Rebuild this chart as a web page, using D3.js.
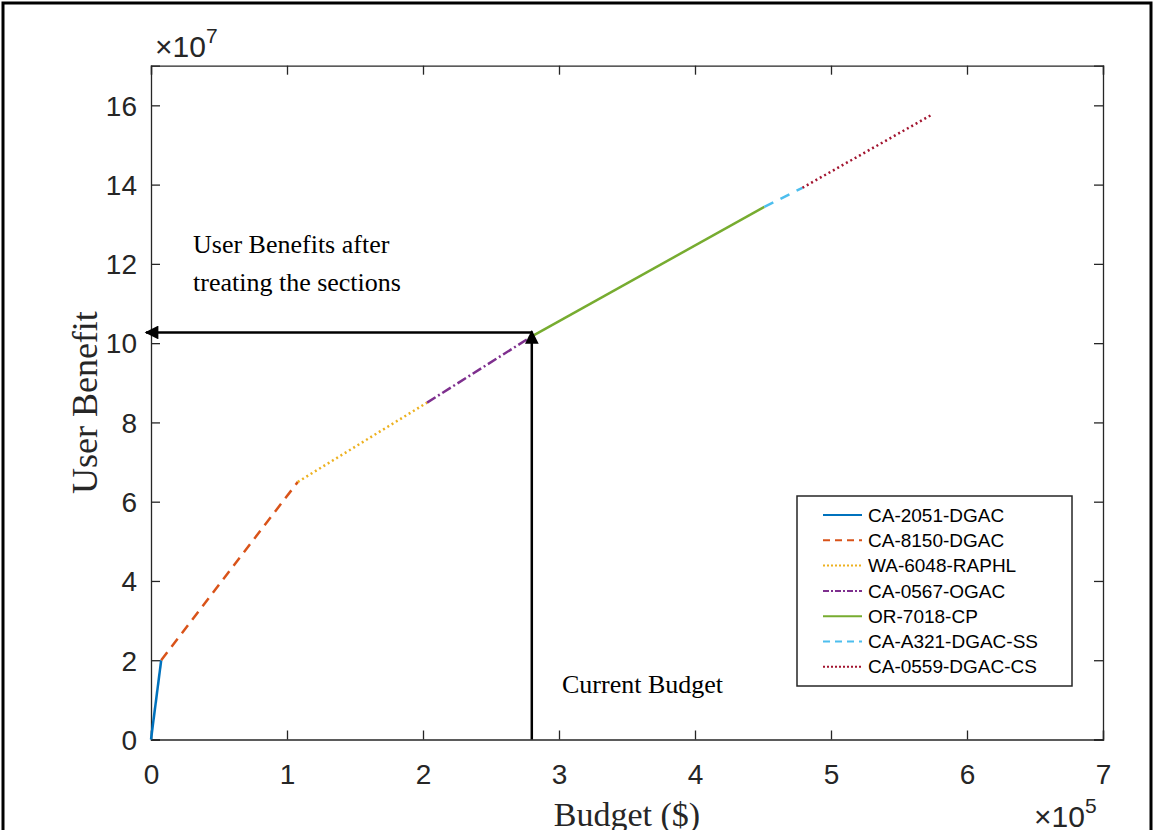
<!DOCTYPE html>
<html><head><meta charset="utf-8">
<script src="https://cdn.jsdelivr.net/npm/d3@7"></script>
<style>body{margin:0;background:#fff}</style></head>
<body><svg id="c" width="1154" height="830"></svg>
<script>
// Data: budget (x 1e5 $), user benefit (x 1e7)
const seriesNames = ["CA-2051-DGAC","CA-8150-DGAC","WA-6048-RAPHL","CA-0567-OGAC","OR-7018-CP","CA-A321-DGAC-SS","CA-0559-DGAC-CS"];
const seriesBudget = [[0,0.075],[0.075,1.08],[1.08,2.03],[2.03,2.79],[2.79,4.51],[4.51,4.79],[4.79,5.75]];
const seriesBenefit = [[0,2.0],[2.0,6.5],[6.5,8.5],[8.5,10.15],[10.15,13.44],[13.44,13.92],[13.92,15.78]];
const xTicks = [0,1,2,3,4,5,6,7];
const yTicks = [0,2,4,6,8,10,12,14,16];
const currentBudget = 2.8;
const benefitAtBudget = 10.27;

const colors = ["#0072BD","#D95319","#EDB120","#7E2F8E","#77AC30","#4DBEEE","#A2142F"];
const dashes = [null,"10,7","2,3","10,3,2,3",null,"10,8","2,3"];
const legendDashes = [null,"7,5","2,2","6,2,2,2",null,"7,5","2,2"];

const svg = d3.select("#c");
svg.append("rect").attr("width",1154).attr("height",830).attr("fill","#fff");
// outer border
svg.append("path").attr("d","M3,840V3H1151V840").attr("fill","none").attr("stroke","#000").attr("stroke-width",3);

const L=151,R=1103,T=65.7,B=739.5;
const x = d3.scaleLinear().domain([0,7]).range([L,R]);
const y = d3.scaleLinear().domain([0,17]).range([B,T]);
const axc="#262626";
const tf="'Liberation Sans',Arial,Helvetica,sans-serif";
const sf="'Liberation Serif','Times New Roman',serif";

// axes with inward ticks
const tl=9;
const gx=svg.append("g").attr("transform",`translate(0,${B})`).call(d3.axisBottom(x).tickValues(xTicks).tickSize(-tl).tickPadding(25).tickFormat(d3.format("d")));
const gxt=svg.append("g").attr("transform",`translate(0,${T})`).call(d3.axisTop(x).tickValues(xTicks).tickSize(-tl).tickFormat(""));
const gy=svg.append("g").attr("transform",`translate(${L},0)`).call(d3.axisLeft(y).tickValues(yTicks).tickSize(-tl).tickPadding(14).tickFormat(d3.format("d")));
const gyr=svg.append("g").attr("transform",`translate(${R},0)`).call(d3.axisRight(y).tickValues(yTicks).tickSize(-tl).tickFormat(""));
[gx,gxt,gy,gyr].forEach(g=>{
  g.select(".domain").attr("stroke",axc).attr("stroke-width",1.3);
  g.selectAll(".tick line").attr("stroke",axc).attr("stroke-width",1.3);
  g.selectAll("text").attr("fill",axc).attr("font-family",tf).attr("font-size",28);
});
gy.selectAll(".tick text").attr("dy","0.35em");

// exponent labels
const e7=svg.append("text").attr("x",x(0)+4).attr("y",57).attr("font-family",tf).attr("fill",axc).attr("font-size",30);
e7.append("tspan").text("×10");
e7.append("tspan").attr("dy",-14).attr("font-size",21).text("7");
const e5=svg.append("text").attr("x",1034).attr("y",827).attr("font-family",tf).attr("fill",axc).attr("font-size",30);
e5.append("tspan").text("×10");
e5.append("tspan").attr("dy",-14).attr("font-size",21).text("5");

// axis labels
svg.append("text").attr("x",(L+R)/2).attr("y",826).attr("text-anchor","middle").attr("font-family",sf).attr("font-size",34).attr("fill",axc).text("Budget ($)");
svg.append("text").attr("transform",`translate(97,${(T+B)/2}) rotate(-90)`).attr("text-anchor","middle").attr("font-family",sf).attr("font-size",36).attr("fill",axc).text("User Benefit");

// series
const line=d3.line().x(d=>x(d[0])).y(d=>y(d[1]));
seriesNames.forEach((n,i)=>{
  const pts=seriesBudget[i].map((b,j)=>[b,seriesBenefit[i][j]]);
  svg.append("path").attr("d",line(pts)).attr("fill","none").attr("stroke",colors[i]).attr("stroke-width",2.5)
    .attr("stroke-dasharray",dashes[i]);
});

// arrows
const defs=svg.append("defs");
defs.append("marker").attr("id","ah").attr("viewBox","0 0 10 10").attr("refX",9).attr("refY",5)
  .attr("markerWidth",6).attr("markerHeight",5.5).attr("markerUnits","strokeWidth").attr("orient","auto")
  .append("path").attr("d","M0,0L10,5L0,10Z").attr("fill","#000");
svg.append("line").attr("x1",x(currentBudget)).attr("y1",y(benefitAtBudget)).attr("x2",x(0)-5).attr("y2",y(benefitAtBudget))
  .attr("stroke","#000").attr("stroke-width",2.5).attr("marker-end","url(#ah)");
svg.append("line").attr("x1",x(currentBudget)).attr("y1",y(0)).attr("x2",x(currentBudget)).attr("y2",y(benefitAtBudget)-1)
  .attr("stroke","#000").attr("stroke-width",2.5).attr("marker-end","url(#ah)");

// annotations
svg.append("text").attr("x",193).attr("y",253).attr("font-family",sf).attr("font-size",26).attr("fill","#000").text("User Benefits after");
svg.append("text").attr("x",193).attr("y",291).attr("font-family",sf).attr("font-size",26).attr("fill","#000").text("treating the sections");
svg.append("text").attr("x",562).attr("y",693).attr("font-family",sf).attr("font-size",26).attr("fill","#000").text("Current Budget");

// legend
const lx=797,ly=496,lw=275,lh=190,rowH=25.3;
const lg=svg.append("g");
lg.append("rect").attr("x",lx).attr("y",ly).attr("width",lw).attr("height",lh).attr("fill","#fff").attr("stroke",axc).attr("stroke-width",1.5);
seriesNames.forEach((n,i)=>{
  const cy=ly+19+i*rowH;
  lg.append("line").attr("x1",lx+26).attr("x2",lx+65).attr("y1",cy).attr("y2",cy).attr("stroke",colors[i]).attr("stroke-width",2).attr("stroke-dasharray",legendDashes[i]);
  lg.append("text").attr("x",lx+71).attr("y",cy).attr("dy","0.35em").attr("font-family",tf).attr("font-size",19).attr("fill","#000").text(n);
});
</script></body></html>
